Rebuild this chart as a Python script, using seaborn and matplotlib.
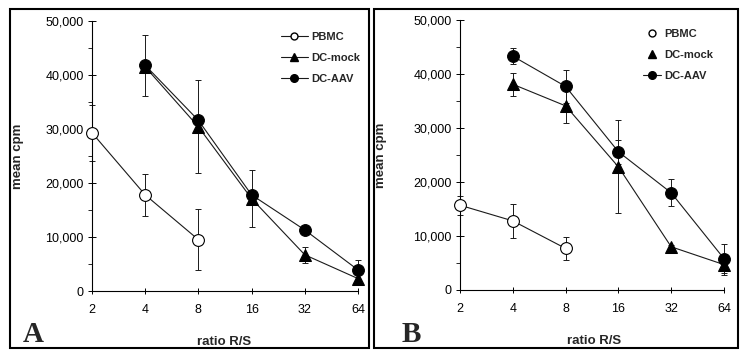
import pandas as pd
import seaborn as sns
import matplotlib.pyplot as plt
from matplotlib.lines import Line2D
from matplotlib.patches import Rectangle
from matplotlib.ticker import MultipleLocator, NullLocator

# Datos
ratio = [2, 4, 8, 16, 32, 64]
ratio_labels = ["2", "4", "8", "16", "32", "64"]
y_ticks = [0, 10000, 20000, 30000, 40000, 50000]
y_labels = ["0", "10,000", "20,000", "30,000", "40,000", "50,000"]

# Panel A
pbmc_a = [29300, 17800, 9500]
pbmc_a_err = [5200, 3900, 5700]
mock_a = [41500, 30400, 17100, 6700, 2300]
mock_a_err = [1000, 8600, 5300, 1500, 800]
aav_a = [41800, 31600, 17800, 11300, 3900]
aav_a_err = [5600, 700, 500, 500, 1800]

# Panel B
pbmc_b = [15700, 12800, 7700]
pbmc_b_err = [1800, 3200, 2100]
mock_b = [38100, 34100, 22800, 8000, 4700]
mock_b_err = [2100, 3100, 8600, 400, 2000]
aav_b = [43300, 37700, 25600, 18000, 5800]
aav_b_err = [1500, 3000, 2200, 2500, 2700]

sns.set_style("ticks")
plt.rcParams['font.family'] = ['Liberation Sans', 'DejaVu Sans']

W, H = 742, 363
fig = plt.figure(figsize=(W / 100, H / 100), dpi=100)
axA = fig.add_axes([92 / W, 72 / H, 266 / W, 270 / H])
axB = fig.add_axes([460 / W, 73 / H, 264 / W, 270 / H])

LC = "#1a1a1a"


def dibujar(ax, pbmc, pbmc_err, mock, mock_err, aav, aav_err):
    x_p = ratio[:3]
    x_d = ratio[1:]
    # barras de error
    for yy, ee in [(pbmc, pbmc_err), (mock, mock_err), (aav, aav_err)]:
        xx = x_p if len(yy) == 3 else x_d
        ax.errorbar(xx, yy, yerr=ee, fmt="none", ecolor=LC, elinewidth=0.7,
                    capsize=2.5, capthick=0.7, zorder=1, clip_on=False)
    # lineas
    sns.lineplot(x=x_p, y=pbmc, ax=ax, color=LC, lw=0.8, marker="o", markersize=8.5,
                 markerfacecolor="white", markeredgecolor="black", markeredgewidth=0.8,
                 clip_on=False, zorder=3)
    sns.lineplot(x=x_d, y=mock, ax=ax, color=LC, lw=0.8, marker="^", markersize=8.5,
                 markerfacecolor="black", markeredgecolor="black", clip_on=False, zorder=3)
    sns.lineplot(x=x_d, y=aav, ax=ax, color=LC, lw=0.8, marker="o", markersize=8.5,
                 markerfacecolor="black", markeredgecolor="black", clip_on=False, zorder=4)

    ax.set_xscale("log", base=2)
    ax.set_xlim(2, 64)
    ax.set_xticks(ratio)
    ax.set_xticklabels(ratio_labels)
    ax.xaxis.set_minor_locator(NullLocator())
    ax.set_ylim(0, 50000)
    ax.set_yticks(y_ticks)
    ax.set_yticklabels(y_labels)
    ax.yaxis.set_minor_locator(MultipleLocator(5000))
    ax.tick_params(axis="y", which="major", direction="inout", length=6, width=0.7,
                   labelsize=9, pad=3, colors="black")
    ax.tick_params(axis="y", which="minor", direction="out", length=3, width=0.7)
    ax.tick_params(axis="x", which="major", direction="inout", length=5, width=0.7,
                   labelsize=9, pad=7, colors="black")
    sns.despine(ax=ax)
    for s in ["left", "bottom"]:
        ax.spines[s].set_linewidth(0.8)
        ax.spines[s].set_color("black")
    ax.set_xlabel("ratio R/S", fontsize=9.5, fontweight="bold")
    ax.set_ylabel("mean cpm", fontsize=9.5, fontweight="bold")
    ax.patch.set_alpha(0)


dibujar(axA, pbmc_a, pbmc_a_err, mock_a, mock_a_err, aav_a, aav_a_err)
dibujar(axB, pbmc_b, pbmc_b_err, mock_b, mock_b_err, aav_b, aav_b_err)

axA.xaxis.set_label_coords(0.496, -0.167)
axA.yaxis.set_label_coords(-0.255, 0.5)
axB.xaxis.set_label_coords(0.508, -0.167)
axB.yaxis.set_label_coords(-0.275, 0.5)

# Leyendas
nombres = ["PBMC", "DC-mock", "DC-AAV"]
h_a = [
    Line2D([], [], color=LC, lw=0.8, marker="o", ms=5, mfc="white", mec="black"),
    Line2D([], [], color=LC, lw=0.8, marker="^", ms=6, mfc="black", mec="black"),
    Line2D([], [], color=LC, lw=0.8, marker="o", ms=5.5, mfc="black", mec="black"),
]
axA.legend(h_a, nombres, loc="upper left", bbox_to_anchor=(281 / W, 1 - 32 / H),
           bbox_transform=fig.transFigure, frameon=False,
           prop=dict(weight="bold", size=8), handlelength=2.4, handletextpad=0.3,
           labelspacing=1.0, borderpad=0, borderaxespad=0)

h_b = [
    Line2D([], [], ls="none", marker="o", ms=5, mfc="white", mec="black"),
    Line2D([], [], ls="none", marker="^", ms=6, mfc="black", mec="black"),
    Line2D([], [], color=LC, lw=0.8, marker="o", ms=5.5, mfc="black", mec="black"),
]
axB.legend(h_b, nombres, loc="upper left", bbox_to_anchor=(643 / W, 1 - 29 / H),
           bbox_transform=fig.transFigure, frameon=False,
           prop=dict(weight="bold", size=8), handlelength=1.6, handletextpad=0.3,
           labelspacing=1.0, borderpad=0, borderaxespad=0)

# Marcos de cada panel
fig.add_artist(Rectangle((10 / W, 15 / H), 359 / W, 339 / H, transform=fig.transFigure,
                         fill=False, lw=1.5, ec="black"))
fig.add_artist(Rectangle((374 / W, 15 / H), 364 / W, 339 / H, transform=fig.transFigure,
                         fill=False, lw=1.5, ec="black"))

# Letras de panel
fig.text(23 / W, 21 / H, "A", family=["Liberation Serif", "DejaVu Serif"],
         fontweight="bold", fontsize=21, va="baseline")
fig.text(402 / W, 21 / H, "B", family=["Liberation Serif", "DejaVu Serif"],
         fontweight="bold", fontsize=21, va="baseline")

fig.savefig("out.png", dpi=100)
